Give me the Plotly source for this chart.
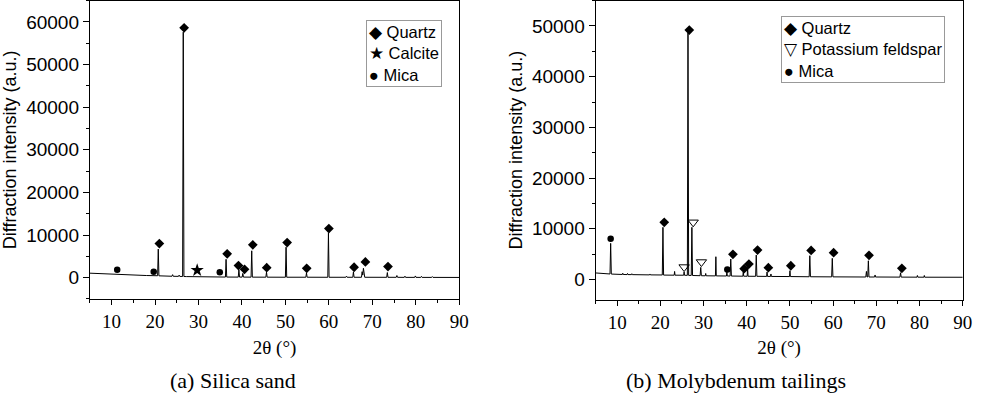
import plotly.graph_objects as go

# ---------------- data: (a) Silica sand ----------------
a_x = [5, 8, 11, 15, 18, 20.6, 20.75, 20.9, 23.9, 24.05, 24.2, 25.4, 25.55, 25.7,
       26.35, 26.5, 26.65, 27.2, 30, 33, 36.2, 36.35, 36.5, 39.15, 39.3, 39.45,
       40.05, 40.2, 40.35, 42.1, 42.25, 42.4, 45.5, 45.65, 45.8, 50.0, 50.15, 50.3,
       54.7, 54.85, 55.0, 59.75, 59.9, 60.05, 63.9, 64.05, 64.2, 65.5, 65.65, 65.8,
       67.5, 67.65, 67.8, 67.95, 68.1, 68.25, 73.3, 73.45, 73.6, 75.5, 75.65, 75.8,
       77.35, 77.5, 77.65, 79.75, 79.9, 80.05, 81.15, 81.3, 81.45, 83.65, 83.8, 83.95, 90]
a_y = [1050, 900, 750, 600, 500, 450, 6700, 430, 330, 700, 320, 300, 600, 290,
       280, 57600, 270, 250, 200, 160, 140, 4300, 140, 130, 1800, 130,
       130, 1000, 130, 120, 6300, 120, 110, 1300, 110, 100, 7150, 100,
       100, 1100, 100, 90, 10450, 90, 90, 350, 90, 90, 1340, 90,
       90, 1400, 600, 2200, 1000, 90, 80, 1200, 80, 80, 500, 80,
       70, 350, 70, 70, 400, 70, 60, 300, 60, 60, 250, 60, 50]

a_quartz_x = [21.0, 26.7, 36.6, 39.2, 40.6, 42.5, 45.7, 50.4, 54.9, 60.0, 65.8, 68.4, 73.6]
a_quartz_y = [8000, 58600, 5580, 2830, 1970, 7700, 2350, 8240, 2200, 11530, 2440, 3690, 2590]
a_calcite_x = [29.7]
a_calcite_y = [1740]
a_mica_x = [11.3, 19.7, 34.9]
a_mica_y = [1880, 1410, 1270]

# ---------------- data: (b) Molybdenum tailings ----------------
b_x = [5, 8.35, 8.5, 8.65, 11.2, 11.3, 11.4, 12.3, 12.4, 12.5, 13.3, 13.4, 13.5,
       17.5, 17.6, 17.7, 20.45, 20.6, 20.75, 23.2, 23.3, 23.4, 25.4, 25.5, 25.6,
       26.25, 26.4, 26.55, 27.15, 27.3, 27.45, 29.2, 29.35, 29.5, 30.4, 30.5, 30.6,
       32.75, 32.85, 32.95, 35.3, 35.4, 35.5, 36.15, 36.3, 36.45, 39.1, 39.2, 39.3,
       40.1, 40.2, 40.3, 42.05, 42.2, 42.35, 44.6, 44.7, 44.8, 45.5, 45.6, 45.7,
       49.9, 50.0, 50.1, 54.45, 54.6, 54.75, 59.65, 59.8, 59.95, 67.55, 67.7, 67.85,
       68.0, 68.15, 68.3, 69.6, 69.7, 69.8, 75.45, 75.6, 75.75, 79.4, 79.5, 79.6,
       81.0, 81.1, 81.2, 90]
b_y = [1300, 1100, 7140, 1080, 1000, 1250, 1000, 980, 1200, 980, 970, 1150, 970,
       920, 1100, 920, 900, 10300, 880, 860, 1600, 860, 850, 1500, 840,
       830, 48600, 820, 810, 10300, 800, 760, 2400, 750, 740, 1200, 740,
       720, 4500, 720, 700, 1500, 700, 690, 4050, 690, 660, 1550, 660,
       650, 2400, 650, 640, 4830, 640, 620, 1500, 620, 610, 1100, 610,
       590, 1750, 590, 550, 4700, 550, 530, 4180, 530, 500, 1600, 500,
       500, 3700, 500, 500, 900, 500, 480, 1340, 480, 470, 800, 470,
       460, 800, 460, 450]

b_quartz_x = [20.9, 26.7, 36.8, 39.4, 40.5, 42.5, 45.0, 50.2, 54.9, 60.1, 68.3, 75.9]
b_quartz_y = [11280, 49200, 4970, 2130, 3060, 5820, 2330, 2720, 5750, 5290, 4770, 2210]
b_kfeld_x = [25.5, 27.6, 29.5]
b_kfeld_y = [2460, 11280, 3450]
b_mica_x = [8.5, 35.5]
b_mica_y = [8050, 2000]

x_ticks = [10, 20, 30, 40, 50, 60, 70, 80, 90]
x_tick_labels = ["10", "20", "30", "40", "50", "60", "70", "80", "90"]
a_y_ticks = [0, 10000, 20000, 30000, 40000, 50000, 60000]
a_y_tick_labels = ["0", "10000", "20000", "30000", "40000", "50000", "60000"]
b_y_ticks = [0, 10000, 20000, 30000, 40000, 50000]
b_y_tick_labels = ["0", "10000", "20000", "30000", "40000", "50000"]

SANS = "Liberation Sans"
SERIF = "Liberation Serif"

fig = go.Figure()

line = dict(color="black", width=1)
diamond = dict(symbol="diamond", size=7.5, color="black")
circle = dict(symbol="circle", size=6.5, color="black")

fig.add_trace(go.Scatter(x=a_x, y=a_y, mode="lines", line=line, xaxis="x", yaxis="y", showlegend=False))
fig.add_trace(go.Scatter(x=a_quartz_x, y=a_quartz_y, mode="markers", name="Quartz",
                         marker=diamond, xaxis="x", yaxis="y", showlegend=False))
fig.add_trace(go.Scatter(x=a_calcite_x, y=a_calcite_y, mode="markers", name="Calcite",
                         marker=dict(symbol="star", size=10, color="black"), xaxis="x", yaxis="y", showlegend=False))
fig.add_trace(go.Scatter(x=a_mica_x, y=a_mica_y, mode="markers", name="Mica",
                         marker=circle, xaxis="x", yaxis="y", showlegend=False))

fig.add_trace(go.Scatter(x=b_x, y=b_y, mode="lines", line=line, xaxis="x2", yaxis="y2", showlegend=False))
fig.add_trace(go.Scatter(x=b_quartz_x, y=b_quartz_y, mode="markers", name="Quartz",
                         marker=diamond, xaxis="x2", yaxis="y2", showlegend=False))
fig.add_trace(go.Scatter(x=b_kfeld_x, y=b_kfeld_y, mode="markers", name="Potassium feldspar",
                         marker=dict(symbol="triangle-down-open", size=9, color="black", line=dict(width=1)),
                         xaxis="x2", yaxis="y2", showlegend=False))
fig.add_trace(go.Scatter(x=b_mica_x, y=b_mica_y, mode="markers", name="Mica",
                         marker=circle, xaxis="x2", yaxis="y2", showlegend=False))

def xaxis(domain, anchor):
    return dict(domain=domain, anchor=anchor, range=[5, 90], tickvals=x_ticks, ticktext=x_tick_labels,
                ticks="outside", ticklen=5, tickcolor="black", showline=True, linecolor="black",
                linewidth=1, mirror=True, showgrid=False, zeroline=False,
                minor=dict(ticks="outside", ticklen=3, dtick=5, tick0=5, tickcolor="black"),
                tickfont=dict(family=SERIF, size=19, color="black"),
                title=dict(text="2θ (°)", font=dict(family=SERIF, size=19, color="black"), standoff=9))

def yaxis(domain, anchor, rng, tv, tt):
    return dict(domain=domain, anchor=anchor, range=rng, tickvals=tv, ticktext=tt,
                ticks="outside", ticklen=6, tickcolor="black", showline=True, linecolor="black",
                linewidth=1, mirror=True, showgrid=False, zeroline=False,
                minor=dict(ticks="outside", ticklen=3, dtick=5000, tick0=0, tickcolor="black"),
                tickfont=dict(family=SANS, size=19, color="black"),
                title=dict(text="Diffraction intensity (a.u.)", font=dict(family=SANS, size=18, color="black"),
                           standoff=4))

fig.update_layout(
    width=982, height=394,
    margin=dict(l=0, r=0, t=0, b=0),
    paper_bgcolor="white", plot_bgcolor="white",
    xaxis=xaxis([0.0924, 0.4725], "y"),
    yaxis=yaxis([0.2412, 0.9985], "x", [-5000, 65000], a_y_ticks, a_y_tick_labels),
    xaxis2=xaxis([0.6127, 0.9905], "y2"),
    yaxis2=yaxis([0.2390, 0.9985], "x2", [-4000, 55000], b_y_ticks, b_y_tick_labels),
    showlegend=False,
)

# legend boxes (drawn as annotations)
fig.add_annotation(xref="paper", yref="paper", x=370 / 982, y=1 - 20 / 394, xanchor="left", yanchor="top",
                   text="◆ Quartz<br>★ Calcite<br>● Mica", align="left", showarrow=False,
                   font=dict(family=SANS, size=16.5, color="black"),
                   bordercolor="#999999", borderwidth=1, borderpad=2, bgcolor="white")
fig.add_annotation(xref="paper", yref="paper", x=789 / 982, y=1 - 16 / 394, xanchor="left", yanchor="top",
                   text="◆ Quartz<br>▽ Potassium feldspar<br>● Mica", align="left", showarrow=False,
                   font=dict(family=SANS, size=16.5, color="black"),
                   bordercolor="#999999", borderwidth=1, borderpad=2, bgcolor="white")

# captions
fig.add_annotation(xref="paper", yref="paper", x=235 / 982, y=(394 - 380) / 394, xanchor="center",
                   yanchor="middle", text="(a) Silica sand", showarrow=False,
                   font=dict(family=SERIF, size=22, color="black"))
fig.add_annotation(xref="paper", yref="paper", x=744 / 982, y=(394 - 380) / 394, xanchor="center",
                   yanchor="middle", text="(b) Molybdenum tailings", showarrow=False,
                   font=dict(family=SERIF, size=22, color="black"))

fig.write_html("out.html", config={"displayModeBar": False},
               post_script="document.body.style.margin='0';document.body.style.overflow='hidden';")
